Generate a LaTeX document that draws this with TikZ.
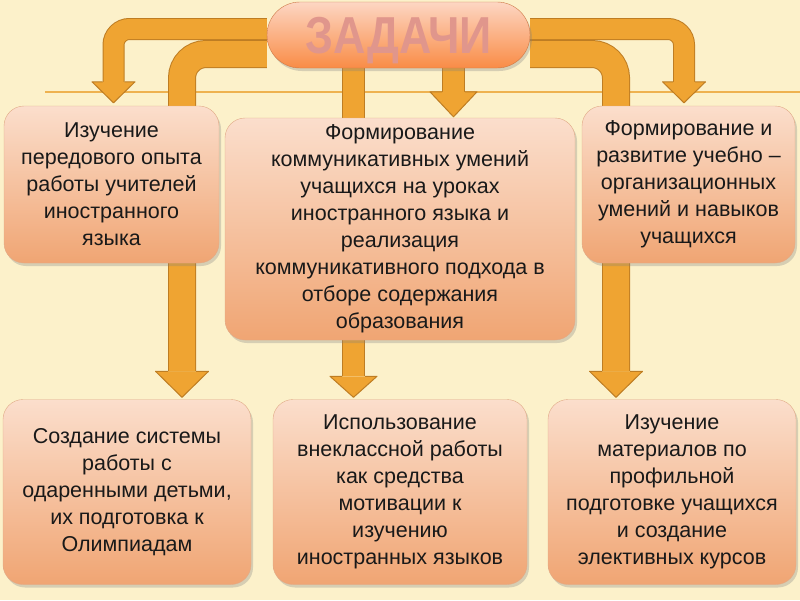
\documentclass[tikz,border=0pt]{standalone}
\usepackage{fontspec}
\setmainfont{Liberation Sans}
\usetikzlibrary{positioning,shadows,backgrounds}

\definecolor{bgcream}{RGB}{252,241,202}
\definecolor{ruleline}{RGB}{238,178,80}
\definecolor{arrowfill}{RGB}{239,164,50}
\definecolor{arrowline}{RGB}{190,125,35}
\definecolor{boxtop}{RGB}{251,222,204}
\definecolor{boxbottom}{RGB}{240,165,115}
\definecolor{boxline}{RGB}{225,170,135}
\definecolor{titletop}{RGB}{253,214,195}
\definecolor{titlebottom}{RGB}{249,140,70}
\definecolor{titleline}{RGB}{205,120,70}
\definecolor{titletext}{RGB}{224,150,140}

% arrow head: tip, half width, length, half band width
\newcommand{\arrowhead}[4]{%
  \fill [arrowfill] ([xshift=-#2pt, yshift=#3pt]#1) -- ([xshift=#2pt, yshift=#3pt]#1) -- (#1) -- cycle;
  \draw [head] ([xshift=-#4pt, yshift=#3pt]#1) -- ([xshift=-#2pt, yshift=#3pt]#1) -- (#1)
      -- ([xshift=#2pt, yshift=#3pt]#1) -- ([xshift=#4pt, yshift=#3pt]#1);}

\begin{document}
\begin{tikzpicture}[
    x = 1pt,
    y = -1pt,
    box/.style = {
        rectangle,
        rounded corners = 20pt,
        align = center,
        draw = boxline,
        top color = boxtop,
        bottom color = boxbottom,
        drop shadow = {opacity = 0.3, shadow xshift = 2pt, shadow yshift = -3pt},
        font = \fontsize{21.5}{27}\selectfont,
        text = black!90,
        inner sep = 0pt
    },
    band/.style = {
        draw = arrowline,
        line width = 1pt,
        double = arrowfill,
        double distance = #1
    },
    head/.style = {
        draw = arrowline,
        line width = 1pt,
        line join = round
    }
]
    \useasboundingbox (0,0) rectangle (800,600);

    % Nodes
    \node [box, minimum width = 263pt, minimum height = 66pt, rounded corners = 33pt,
           top color = titletop, bottom color = titlebottom, draw = titleline,
           text = titletext, font = \fontsize{52}{52}\selectfont\bfseries,
           text height = 37pt, text depth = 0pt]
        (tasks) at (398.5, 35) {\scalebox{0.86}[1]{ЗАДАЧИ}};
    \node [box, minimum width = 215pt, minimum height = 157pt] (study) at (111.5, 184.5)
        {Изучение\\передового опыта\\работы учителей\\иностранного\\языка};
    \node [box, minimum width = 350pt, minimum height = 222pt] (skills) at (400, 229)
        {Формирование\\коммуникативных умений\\учащихся на уроках\\иностранного языка и\\реализация\\коммуникативного подхода в\\отборе содержания\\образования};
    \node [box, minimum width = 213pt, minimum height = 157pt] (habits) at (688.5, 184.5)
        {Формирование и\\развитие учебно –\\организационных\\умений и навыков\\учащихся};
    \node [box, minimum width = 248pt, minimum height = 185pt] (gifted) at (127, 492)
        {Создание системы\\работы с\\одаренными детьми,\\их подготовка к\\Олимпиадам};
    \node [box, minimum width = 254pt, minimum height = 185pt] (extra) at (400, 492)
        {Использование\\внеклассной работы\\как средства\\мотивации к\\изучению\\иностранных языков};
    \node [box, minimum width = 248pt, minimum height = 185pt] (profile) at (672, 492)
        {Изучение\\материалов по\\профильной\\подготовке учащихся\\и создание\\элективных курсов};

    % Tips
    \coordinate (t1) at ([xshift = 2pt, yshift = 3pt]study.north);
    \coordinate (t2) at ([xshift = 53.5pt, yshift = 1pt]skills.north);
    \coordinate (t3) at ([xshift = -4.5pt, yshift = 3pt]habits.north);
    \coordinate (t4) at ([xshift = 55pt, yshift = 2pt]gifted.north);
    \coordinate (t5) at ([xshift = -46.5pt, yshift = 2pt]extra.north);
    \coordinate (t6) at ([xshift = -56pt, yshift = 2pt]profile.north);

    \begin{scope}[on background layer]
        \fill [bgcream] (0,0) rectangle (800,600);
        \draw [ruleline, line width = 1.5pt] (45,92) -- (800,92);

        % Arrows
        \draw [band = 20pt, rounded corners = 16pt] ([yshift = 21pt]t1) |- ([yshift = 6pt]tasks.west);
        \arrowhead{t1}{21.5}{21}{11}
        \draw [band = 26pt, rounded corners = 24pt] ([yshift = 26pt]t4) |- ([yshift = -19pt]tasks.west);
        \arrowhead{t4}{26.5}{26}{14}
        \draw [band = 20pt, rounded corners = 16pt] ([yshift = 21pt]t3) |- ([yshift = 6pt]tasks.east);
        \arrowhead{t3}{21.5}{21}{11}
        \draw [band = 26pt, rounded corners = 24pt] ([yshift = 26pt]t6) |- ([yshift = -19pt]tasks.east);
        \arrowhead{t6}{26.5}{26}{14}
        \draw [band = 21pt] ([yshift = 21pt]t5) -- (t5 |- tasks.center);
        \arrowhead{t5}{23.5}{21}{11.5}
        \draw [band = 21pt] ([yshift = 25pt]t2) -- (t2 |- tasks.center);
        \arrowhead{t2}{23.5}{25}{11.5}
    \end{scope}

\end{tikzpicture}
\end{document}
